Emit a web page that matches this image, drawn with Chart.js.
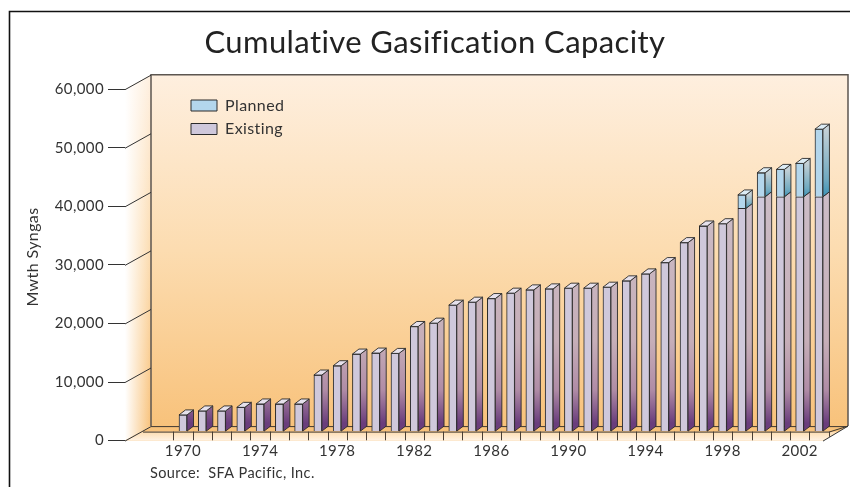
<!DOCTYPE html>
<html><head><meta charset="utf-8">
<style>html,body{margin:0;padding:0;background:#fff}#c{display:block}</style>
<script src="https://cdn.jsdelivr.net/npm/chart.js@4"></script>
</head><body><div style="width:850px;height:487px"><canvas id="c" width="850" height="487"></canvas></div>
<script>
const titleText = 'Cumulative Gasification Capacity';
const sourceText = 'Source:  SFA Pacific, Inc.';
const yTitle = 'Mwth Syngas';
const years = [1970,1971,1972,1973,1974,1975,1976,1977,1978,1979,1980,1981,1982,1983,1984,1985,1986,1987,1988,1989,1990,1991,1992,1993,1994,1995,1996,1997,1998,1999,2000,2001,2002,2003];
const existing = [2850,3530,3530,4140,4720,4720,4720,9660,11250,13240,13410,13350,17950,18520,21590,22100,22720,23640,24200,24370,24490,24490,24660,25740,26930,28860,32270,35110,35500,38110,40100,40100,40100,40100];
const planned = [null,null,null,null,null,null,null,null,null,null,null,null,null,null,null,null,null,null,null,null,null,null,null,null,null,null,null,null,null,2300,4100,4670,5690,11540];
const labelYears = [1970,1974,1978,1982,1986,1990,1994,1998,2002];
const FONT = 'Lato, "Open Sans", sans-serif';
const INK = '#333';
const D = {dx:6.5, dy:-5, back:-14.5, lift:-9, wallDx:26};

function wallGradient(ctx){
  const g = ctx.createLinearGradient(0,74,0,427);
  g.addColorStop(0,'#feefdf'); g.addColorStop(.5,'#fcdcb0'); g.addColorStop(1,'#f8c27b');
  return g;
}
function poly(ctx,pts){ctx.beginPath();pts.forEach((p,i)=>i?ctx.lineTo(p[0],p[1]):ctx.moveTo(p[0],p[1]));ctx.closePath();}

const scene = {
  id:'scene',
  beforeDraw(chart){
    const ctx = chart.ctx, a = chart.chartArea;
    ctx.letterSpacing='0.4px';
    const L=a.left, R=a.right, T=a.top, B=a.bottom;
    const bx=L+D.wallDx, by=B+D.back, tx=T+D.back, rx=R+25;
    ctx.save();
    // frame
    ctx.strokeStyle='#111'; ctx.lineWidth=1.6;
    ctx.beginPath(); ctx.moveTo(9.5,487); ctx.lineTo(9.5,11.5); ctx.lineTo(850,11.5); ctx.stroke();
    // side wall
    poly(ctx,[[L,T],[bx,tx],[bx,by],[L,B]]);
    ctx.fillStyle=wallGradient(ctx); ctx.fill();
    const w=ctx.createLinearGradient(L,0,bx,0);
    w.addColorStop(0,'rgba(255,255,255,1)'); w.addColorStop(1,'rgba(255,255,255,0)');
    ctx.fillStyle=w; ctx.fill();
    // back wall
    ctx.fillStyle=wallGradient(ctx); ctx.fillRect(bx,tx,rx-bx,by-tx);
    // floor
    const fy=B+D.lift;
    poly(ctx,[[L,B],[bx,by],[rx,by],[R,B]]);
    ctx.fillStyle='#f8c27b'; ctx.fill();
    ctx.save(); ctx.clip();
    const f=ctx.createLinearGradient(0,fy,0,B);
    f.addColorStop(0,'#fddcb0'); f.addColorStop(1,'#fff3e4');
    ctx.fillStyle=f; ctx.fillRect(L,fy,rx-L,B-fy+1);
    ctx.strokeStyle='#4a4036'; ctx.lineWidth=1;
    const xs=chart.scales.x;
    years.forEach(y=>{const p=Math.round(xs.getPixelForValue(y-.5))+.5;ctx.beginPath();ctx.moveTo(p,fy);ctx.lineTo(p,B);ctx.stroke();});
    const p=Math.round(xs.getPixelForValue(2003.5))+.5;ctx.beginPath();ctx.moveTo(p,fy);ctx.lineTo(p,B);ctx.stroke();
    ctx.restore();
    // wall edges
    ctx.strokeStyle='#5c5650'; ctx.lineWidth=1.5;
    ctx.beginPath(); ctx.moveTo(bx,by); ctx.lineTo(bx,tx); ctx.lineTo(rx,tx); ctx.lineTo(rx,by); ctx.stroke();
    ctx.strokeStyle='#3e3830'; ctx.lineWidth=1;
    ctx.beginPath(); ctx.moveTo(bx,by+.5); ctx.lineTo(rx,by+.5); ctx.stroke();
    ctx.beginPath(); ctx.moveTo(L+18,fy+.5); ctx.lineTo(R+6,fy+.5); ctx.lineTo(rx,by); ctx.stroke();
    // diagonal tick continuations
    ctx.strokeStyle='#333';
    chart.scales.y.ticks.forEach(t=>{const y=chart.scales.y.getPixelForValue(t.value);
      ctx.beginPath();ctx.moveTo(L,y+.5);ctx.lineTo(bx,y+.5+D.back);ctx.stroke();});
    ctx.beginPath();ctx.moveTo(R,B+.5);ctx.lineTo(rx,by);ctx.stroke();
    // y title
    ctx.translate(33,257);ctx.rotate(-Math.PI/2);
    ctx.font='16px '+FONT;ctx.fillStyle=INK;ctx.textAlign='center';ctx.textBaseline='middle';
    ctx.fillText(yTitle,0,0);
    ctx.restore();
    // place title, source and legend
    chart.boxes.forEach(b=>{
      if(b.options && b.options.text===titleText && !b._moved){b.left+=11;b.right+=11;b._moved=1;}
      if(b.options && b.options.text===sourceText && !b._moved){b.left+=125;b.right+=125;b._moved=1;}
    });
    if(chart.legend){chart.legend.left=183.5;chart.legend.top=90;}
  },
  beforeDatasetsDraw(chart){ chart.ctx.save(); chart.ctx.translate(0,D.lift); },
  afterDatasetsDraw(chart){
    const ctx=chart.ctx;
    ctx.lineWidth=.9; ctx.strokeStyle='#2a2a2a'; ctx.lineJoin='round';
    const ge=ctx.createLinearGradient(0,130,0,432);
    ge.addColorStop(0,'#cfc4ce');ge.addColorStop(.73,'#c6aeb8');ge.addColorStop(.89,'#b08ca6');ge.addColorStop(1,'#6a3d7c');
    const em=chart.getDatasetMeta(0).data, pm=chart.getDatasetMeta(1).data;
    em.forEach((e,i)=>{
      const r=e.x+e.width/2, l=e.x-e.width/2;
      poly(ctx,[[r,e.y],[r+D.dx,e.y+D.dy],[r+D.dx,e.base+D.dy],[r,e.base]]);
      ctx.fillStyle=ge;ctx.fill();ctx.stroke();
      const p=pm[i];
      if(p && !p.skip && planned[i]!==null){
        const g=ctx.createLinearGradient(0,p.y,0,p.base);
        g.addColorStop(0,'#c4d0d6');g.addColorStop(.75,'#6fa9c0');g.addColorStop(1,'#3b93b5');
        poly(ctx,[[r,p.y],[r+D.dx,p.y+D.dy],[r+D.dx,p.base+D.dy],[r,p.base]]);
        ctx.fillStyle=g;ctx.fill();ctx.stroke();
        poly(ctx,[[l,p.y],[l+D.dx,p.y+D.dy],[r+D.dx,p.y+D.dy],[r,p.y]]);
        ctx.fillStyle='#dcecf5';ctx.fill();ctx.stroke();
      } else {
        poly(ctx,[[l,e.y],[l+D.dx,e.y+D.dy],[r+D.dx,e.y+D.dy],[r,e.y]]);
        ctx.fillStyle='#e6e1ec';ctx.fill();ctx.stroke();
      }
    });
    ctx.restore();
  }
};

new Chart(document.getElementById('c'),{
  type:'bar',
  data:{datasets:[
    {label:'Existing',data:years.map((x,i)=>({x,y:existing[i]})),backgroundColor:'#cfc8db',borderColor:'#2a2a2a',borderWidth:1,stack:'s',barThickness:8,clip:false},
    {label:'Planned',data:years.map((x,i)=>({x,y:planned[i]})),backgroundColor:'#b3d6ec',borderColor:'#2a2a2a',borderWidth:1,stack:'s',barThickness:8,clip:false}
  ]},
  plugins:[scene],
  options:{
    responsive:false,animation:false,
    layout:{padding:{left:25,right:27,top:0,bottom:0}},
    plugins:{
      title:{display:true,text:titleText,color:'#222',font:{family:FONT,size:31,weight:'normal'},padding:{top:24,bottom:28}},
      subtitle:{display:true,text:sourceText,position:'bottom',align:'start',color:INK,font:{family:FONT,size:14.5,weight:'normal'},padding:{top:0,bottom:5}},
      legend:{position:'chartArea',align:'start',reverse:true,labels:{boxWidth:26,boxHeight:11,padding:7.5,color:INK,font:{family:FONT,size:16}}},
      tooltip:{enabled:false}
    },
    scales:{
      x:{type:'linear',offset:false,bounds:'data',stacked:true,min:1966.99,max:2003.21,
        grid:{display:false,drawTicks:false,offset:false},border:{display:false},
        afterBuildTicks(s){s.ticks=labelYears.map(v=>({value:v}));},
        afterFit(s){s.height=24;},
        ticks:{autoSkip:false,maxRotation:0,padding:2,color:INK,font:{family:FONT,size:15},callback:v=>String(v)}},
      y:{stacked:true,min:0,max:60000,
        grid:{display:true,drawOnChartArea:false,drawTicks:true,tickLength:17,color:'#333'},border:{display:false},
        afterFit(s){s.width=100;},
        ticks:{stepSize:10000,padding:4,color:INK,font:{family:FONT,size:15},callback:v=>v.toLocaleString('en-US')}}
    }
  }
});
</script></body></html>
